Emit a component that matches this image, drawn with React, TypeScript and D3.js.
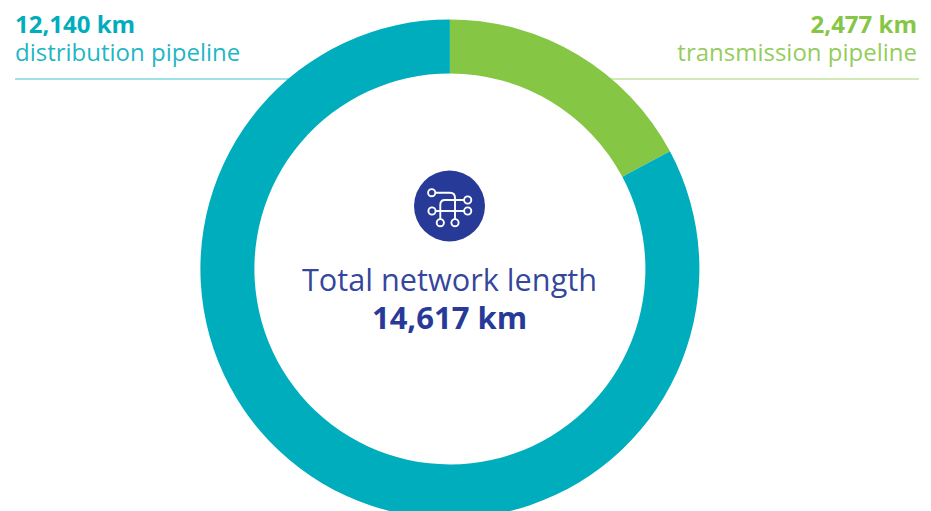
import React from "react";
import * as d3 from "d3";

const categories = ["transmission pipeline", "distribution pipeline"];
const lengths = [2513, 12104]; // ring shares as drawn in the picture
const lengthLabels = ["2,477 km", "12,140 km"];
const colors = ["#86c645", "#00adbd"];
const totalTitle = "Total network length";
const totalValue = "14,617 km";
const NAVY = "#283a97";

export default function App() {
  const cx = 449.9, cy = 268.9;
  const pie = d3.pie<number>().sort(null)(lengths);
  const arc = d3.arc<d3.PieArcDatum<number>>().innerRadius(195.5).outerRadius(249.5);
  const font = "'Open Sans', sans-serif";
  return (
    <svg width={931} height={511} style={{ position: "absolute", left: 0, top: 0, background: "#fff" }} fontFamily={font}>
      <line x1={15} x2={300} y1={79} y2={79} stroke={colors[1]} strokeOpacity={0.75} strokeWidth={1} />
      <line x1={600} x2={919} y1={79} y2={79} stroke={colors[0]} strokeOpacity={0.75} strokeWidth={1} />
      <g transform={`translate(${cx},${cy})`}>
        {pie.map((d, i) => (
          <path key={categories[i]} d={arc(d) ?? ""} fill={colors[i]} />
        ))}
      </g>
      <text x={15} y={33} fontSize={24} fontWeight={700} fill={colors[1]}>{lengthLabels[1]}</text>
      <text x={15} y={61} fontSize={24} fontWeight={400} fillOpacity={0.9} fill={colors[1]}>{categories[1]}</text>
      <text x={917} y={33} fontSize={24} fontWeight={700} fill={colors[0]} textAnchor="end">{lengthLabels[0]}</text>
      <text x={917} y={61} fontSize={24} fontWeight={400} fillOpacity={0.9} fill={colors[0]} textAnchor="end">{categories[0]}</text>
      <circle cx={449.5} cy={206} r={35.5} fill={NAVY} />
      <g fill="none" stroke="#fff" strokeWidth={1.9}>
        <path d="M435.5 192.7H450Q455 192.7 455 198V219" />
        <path d="M464 200H445Q440.3 200 440.3 205V219" />
        <path d="M435.7 211H464" />
        <circle cx={431.7} cy={192.7} r={3.6} />
        <circle cx={467.7} cy={200} r={3.6} />
        <circle cx={432} cy={211} r={3.6} />
        <circle cx={467.7} cy={211} r={3.6} />
        <circle cx={440.3} cy={222.7} r={3.6} />
        <circle cx={455} cy={222.7} r={3.6} />
      </g>
      <text x={449.5} y={291} fontSize={30.7} fontWeight={400} fillOpacity={0.95} fill={NAVY} textAnchor="middle">{totalTitle}</text>
      <text x={449.5} y={329} fontSize={31} fontWeight={700} fill={NAVY} textAnchor="middle">{totalValue}</text>
    </svg>
  );
}
